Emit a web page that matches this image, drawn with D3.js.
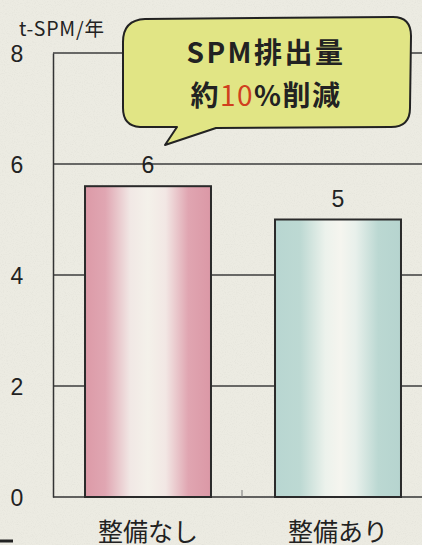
<!DOCTYPE html>
<html><head><meta charset="utf-8">
<script src="https://cdn.jsdelivr.net/npm/d3@7"></script>
<style>
html,body{margin:0;padding:0;background:#ecebe2;}
svg{display:block;}
text{font-family:"Noto Sans CJK JP","Noto Sans",sans-serif;fill:#222;}
</style></head>
<body><svg id="c" width="422" height="545"></svg>
<script>
const categories = ["整備なし", "整備あり"];
const values = [5.6, 5.0];
const valueLabels = ["6", "5"];
const yTicks = [0, 2, 4, 6, 8];
const unitLabel = "t-SPM/年";
const calloutLine1 = "SPM排出量";
const calloutLine2 = ["約", "10", "%削減"];

const svg = d3.select("#c");
const W = 422, H = 545;
const NUMFONT = "'Liberation Sans','DejaVu Sans',sans-serif";

const defs = svg.append("defs");
const f = defs.append("filter").attr("id","paper").attr("x",0).attr("y",0).attr("width","100%").attr("height","100%");
f.append("feTurbulence").attr("type","fractalNoise").attr("baseFrequency",0.9).attr("numOctaves",2).attr("seed",3).attr("result","n");
f.append("feColorMatrix").attr("in","n").attr("type","matrix")
 .attr("values","0 0 0 0 0.55  0 0 0 0 0.55  0 0 0 0 0.5  0 0 0 -1.6 0.85").attr("result","m");
f.append("feComposite").attr("in","m").attr("in2","SourceGraphic").attr("operator","in");
svg.append("rect").attr("width",W).attr("height",H).attr("fill","#ecebe2");
svg.append("rect").attr("width",W).attr("height",H).attr("fill","#ecebe2").attr("filter","url(#paper)").attr("opacity",0.25);

function grad(id, stops){
  const g = defs.append("linearGradient").attr("id",id).attr("x1","0").attr("x2","1").attr("y1","0").attr("y2","0");
  stops.forEach(([o,col])=>g.append("stop").attr("offset",o).attr("stop-color",col));
}
grad("g0",[[0,"#dc9aa7"],[0.16,"#e0a6b2"],[0.36,"#f1e8e5"],[0.5,"#f4f1ea"],[0.64,"#f2e7e4"],[0.82,"#e0a5b1"],[1,"#db98a6"]]);
grad("g1",[[0,"#b8d6d1"],[0.2,"#bdd9d3"],[0.4,"#ecf2ec"],[0.52,"#f5f5ef"],[0.64,"#e8f0eb"],[0.82,"#bbd8d2"],[1,"#b6d4cf"]]);

const y = d3.scaleLinear().domain([0,8]).range([497,53]);
const x = d3.scaleBand().domain(categories).range([53,433]).paddingInner(0.337).paddingOuter(0.1685);

svg.append("g").selectAll("line").data(yTicks.filter(d=>d>0)).join("line")
  .attr("x1",53).attr("x2",W).attr("y1",d=>y(d)).attr("y2",d=>y(d))
  .attr("stroke","#3c3c3c").attr("stroke-width",1.3);

const ya = svg.append("g").attr("transform","translate(53,0)")
  .call(d3.axisLeft(y).tickValues(yTicks).tickSize(0).tickPadding(24).tickFormat(d3.format("d")));
ya.attr("font-size",null).attr("font-family",null);
ya.select(".domain").attr("stroke","#333").attr("stroke-width",1.5);
ya.selectAll(".tick text").attr("font-size",23).attr("fill","#222").attr("dy","0.36em")
  .style("font-family",NUMFONT).attr("text-anchor","middle").attr("x",-36);

svg.append("line").attr("x1",53).attr("x2",W).attr("y1",y(0)).attr("y2",y(0)).attr("stroke","#333").attr("stroke-width",1.6);
svg.append("line").attr("x1",242).attr("x2",242).attr("y1",y(0)-7).attr("y2",y(0)).attr("stroke","#777").attr("stroke-width",1);

svg.append("g").selectAll("rect").data(values).join("rect")
  .attr("x",(d,i)=>x(categories[i])).attr("width",x.bandwidth())
  .attr("y",d=>y(d)).attr("height",d=>y(0)-y(d))
  .attr("fill",(d,i)=>`url(#g${i})`).attr("stroke","#2a2a2a").attr("stroke-width",2);

svg.append("g").selectAll("text").data(values).join("text")
  .attr("x",(d,i)=>x(categories[i])+x.bandwidth()/2).attr("y",d=>y(d)-13)
  .attr("text-anchor","middle").attr("font-size",23)
  .style("font-family",NUMFONT)
  .text((d,i)=>valueLabels[i]);

svg.append("g").selectAll("text").data(categories).join("text")
  .attr("x",d=>x(d)+x.bandwidth()/2).attr("y",541).attr("text-anchor","middle")
  .attr("font-size",25).text(d=>d);

svg.append("text").attr("x",19).attr("y",36).attr("font-size",19.5).attr("letter-spacing",0.8).text(unitLabel);

const bubble = "M145,19 L393,17 Q411,17 411,36 L410,108 Q410,127 391,127 L216,128 L165,145 L177,127 L140,127 Q123,126 123,108 L123,42 Q123,20 145,19 Z";
svg.append("path").attr("d",bubble).attr("fill","#e1e585").attr("stroke","#222").attr("stroke-width",2).attr("stroke-linejoin","round");

svg.append("text").attr("x",266).attr("y",63).attr("text-anchor","middle")
  .attr("font-size",28).attr("font-weight","bold").attr("letter-spacing",2.5).attr("fill","#1e1e1e").text(calloutLine1);
const t2 = svg.append("text").attr("x",266).attr("y",106).attr("text-anchor","middle")
  .attr("font-size",28).attr("font-weight","bold").attr("letter-spacing",1.5).attr("fill","#1e1e1e");
t2.append("tspan").text(calloutLine2[0]);
t2.append("tspan").attr("fill","#d0401e").attr("font-weight","normal").text(calloutLine2[1]);
t2.append("tspan").text(calloutLine2[2]);

svg.append("line").attr("x1",0).attr("x2",13).attr("y1",541).attr("y2",541).attr("stroke","#222").attr("stroke-width",3);
</script></body></html>
